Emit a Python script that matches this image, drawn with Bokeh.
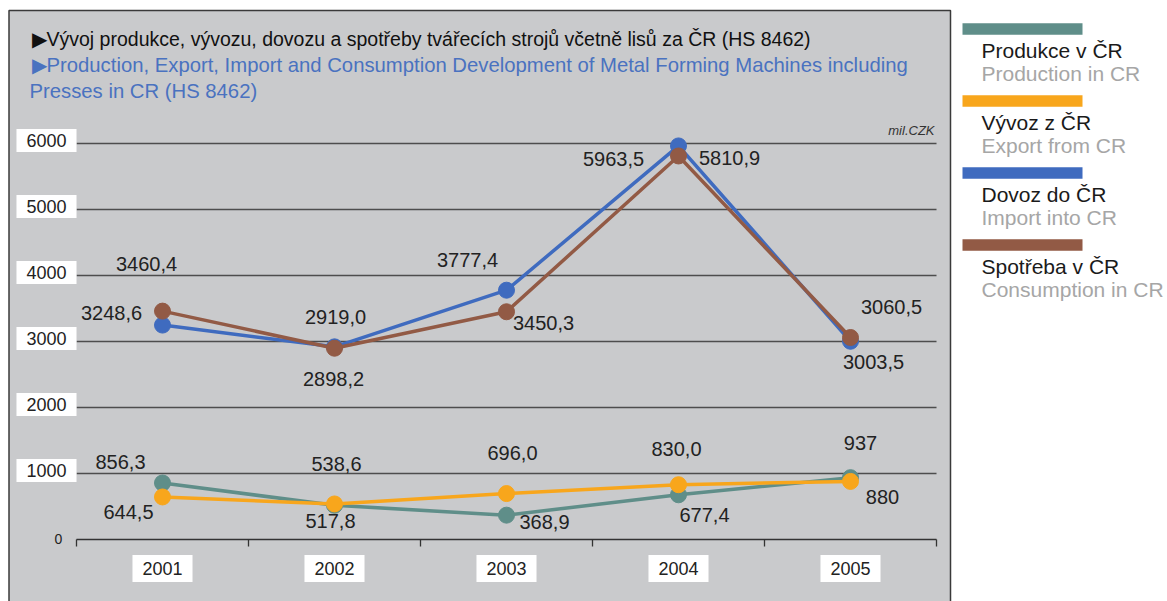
from bokeh.plotting import figure
from bokeh.models import Range1d, Label, ColumnDataSource
from bokeh.embed import file_html
from bokeh.resources import INLINE

# ---------------- data ----------------
years = ["2001", "2002", "2003", "2004", "2005"]
production = [856.3, 517.8, 368.9, 677.4, 937.0]
export = [644.5, 538.6, 696.0, 830.0, 880.0]
imports = [3248.6, 2919.0, 3777.4, 5963.5, 3003.5]
consumption = [3460.4, 2898.2, 3450.3, 5810.9, 3060.5]

production_labels = ["856,3", "517,8", "368,9", "677,4", "937"]
export_labels = ["644,5", "538,6", "696,0", "830,0", "880"]
import_labels = ["3248,6", "2919,0", "3777,4", "5963,5", "3003,5"]
consumption_labels = ["3460,4", "2898,2", "3450,3", "5810,9", "3060,5"]

y_ticks = [1000, 2000, 3000, 4000, 5000, 6000]
y_tick_labels = ["1000", "2000", "3000", "4000", "5000", "6000"]

series_cz = ["Produkce v ČR", "Vývoz z ČR", "Dovoz do ČR", "Spotřeba v ČR"]
series_en = ["Production in CR", "Export from CR", "Import into CR", "Consumption in CR"]

title_cz = "▶Vývoj produkce, vývozu, dovozu a spotřeby tvářecích strojů včetně lisů za ČR (HS 8462)"
title_en_1 = "▶Production, Export, Import and Consumption Development of Metal Forming Machines including"
title_en_2 = "Presses in CR (HS 8462)"
unit_label = "mil.CZK"

# ---------------- styles / layout ----------------
FONT = "Liberation Sans"
GRAY = "#c9cacc"
colors = ["#5f8e89", "#f8a61c", "#3f6bbf", "#925a45"]
TITLE_BLUE = "#4a72c0"
DARK = "#222222"

W, H = 1167, 601
OX, OY = 76, 539           # canvas pixel of (x=0, y=0)
PX_X, PX_Y = 172.0, 0.066  # pixels per x unit / per y unit


def cx(px):
    return (px - OX) / PX_X


def cy(py):
    return (OY - py) / PX_Y


# label offsets (dx right, dy up) in screen pixels, per series
offsets = [
    [(-42, 21), (-4, -16), (38, -7), (26, -20), (10, 35)],
    [(-34, -15), (2, 40), (6, 41), (-2, 36), (32, -16)],
    [(-51, 12), (1, 30), (-39, 30), (-65, -13), (23, -21)],
    [(-16, 47), (-1, -31), (37, -11), (51, -2), (41, 31)],
]

n = len(years)
xs = [i + 0.5 for i in range(n)]

p = figure(width=W, height=H, x_range=Range1d(cx(0), cx(W)), y_range=Range1d(cy(H), cy(0)),
           x_axis_location=None, y_axis_location=None, toolbar_location=None,
           output_backend="svg", min_border=0,
           background_fill_color="white", border_fill_color="white", outline_line_color=None)
p.grid.visible = False

# gray chart panel with dark border
p.quad(left=[cx(8.5)], right=[cx(950)], top=[cy(10)], bottom=[cy(H + 20)],
       fill_color=GRAY, line_color="#3a3a3a", line_width=1.5)

# horizontal gridlines
p.segment(x0=[0] * len(y_ticks), x1=[n] * len(y_ticks), y0=y_ticks, y1=y_ticks,
          line_color="#4d4d4d", line_width=1.3)

# category axis line and ticks
p.segment(x0=[0], x1=[n], y0=[0], y1=[0], line_color="#333333", line_width=1.3)
tick_pos = list(range(n + 1))
p.segment(x0=tick_pos, x1=tick_pos, y0=[0] * (n + 1), y1=[-7 / PX_Y] * (n + 1),
          line_color="#333333", line_width=1.3)

all_series = [production, export, imports, consumption]
all_labels = [production_labels, export_labels, import_labels, consumption_labels]

for vals, color in zip(all_series, colors):
    src = ColumnDataSource(dict(x=xs, y=vals))
    p.line("x", "y", source=src, line_color=color, line_width=3.5)
    p.scatter("x", "y", source=src, size=16, fill_color=color, line_color=color)

for vals, labs, offs in zip(all_series, all_labels, offsets):
    for x, v, t, (dx, dy) in zip(xs, vals, labs, offs):
        p.add_layout(Label(x=x, y=v, text=t, x_offset=dx, y_offset=dy,
                           text_align="center", text_baseline="middle",
                           text_font=FONT, text_font_size="20px", text_color=DARK))

# y tick labels with white boxes
for t, lab in zip(y_ticks, y_tick_labels):
    p.add_layout(Label(x=0, y=t, text=lab, x_offset=-30, y_offset=3,
                       text_align="center", text_baseline="middle",
                       text_font=FONT, text_font_size="18px", text_color=DARK,
                       background_fill_color="white", padding=(10, 5)))
p.add_layout(Label(x=0, y=0, text="0", x_offset=-18, y_offset=1,
                   text_align="center", text_baseline="middle",
                   text_font=FONT, text_font_size="14px", text_color=DARK))

# year labels
for x, yr in zip(xs, years):
    p.add_layout(Label(x=x, y=0, text=yr, x_offset=0, y_offset=-29,
                       text_align="center", text_baseline="middle",
                       text_font=FONT, text_font_size="18px", text_color=DARK,
                       background_fill_color="white", padding=(10, 7)))

# titles
p.add_layout(Label(x=cx(31), y=cy(38), text=title_cz,
                   text_align="left", text_baseline="middle",
                   text_font=FONT, text_font_size="19.5px", text_color="#111111"))
p.add_layout(Label(x=cx(31), y=cy(64), text=title_en_1,
                   text_align="left", text_baseline="middle",
                   text_font=FONT, text_font_size="20.3px", text_color=TITLE_BLUE))
p.add_layout(Label(x=cx(29), y=cy(90), text=title_en_2,
                   text_align="left", text_baseline="middle",
                   text_font=FONT, text_font_size="20.3px", text_color=TITLE_BLUE))
p.add_layout(Label(x=n, y=6000, text=unit_label, x_offset=-2, y_offset=13,
                   text_align="right", text_baseline="middle",
                   text_font=FONT, text_font_size="13px", text_font_style="italic",
                   text_color="#333333"))

# ---------------- legend ----------------
STEP = 72
for i, (cz, en, color) in enumerate(zip(series_cz, series_en, colors)):
    top = 22.7 + i * STEP
    p.quad(left=[cx(962)], right=[cx(1082)], top=[cy(top)], bottom=[cy(top + 11.5)],
           fill_color=color, line_color=None)
    p.add_layout(Label(x=cx(981), y=cy(top + 27), text=cz, text_baseline="middle",
                       text_font=FONT, text_font_size="21px", text_color="#1a1a1a"))
    p.add_layout(Label(x=cx(981), y=cy(top + 50), text=en, text_baseline="middle",
                       text_font=FONT, text_font_size="21px", text_color="#a6a6a6"))

open("out.html", "w").write(file_html(p, INLINE))
